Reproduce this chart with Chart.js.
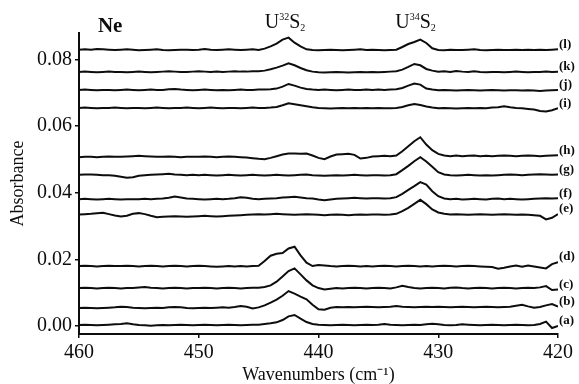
<!DOCTYPE html>
<html>
<head>
<meta charset="utf-8">
<script src="https://cdn.jsdelivr.net/npm/chart.js@4.4.1/dist/chart.umd.min.js"></script>
<style>
  html, body { margin: 0; padding: 0; background: #fff; }
  #wrap { width: 579px; height: 384px; }
</style>
</head>
<body>
<div id="wrap"><canvas id="spectra" width="579" height="384"></canvas></div>
<script>
// wavenumber grid (cm-1), 0.5 step, 460 -> 420
const wavenumbers = [
  460,459.5,459,458.5,458,457.5,457,456.5,456,455.5,
  455,454.5,454,453.5,453,452.5,452,451.5,451,450.5,
  450,449.5,449,448.5,448,447.5,447,446.5,446,445.5,
  445,444.5,444,443.5,443,442.5,442,441.5,441,440.5,
  440,439.5,439,438.5,438,437.5,437,436.5,436,435.5,
  435,434.5,434,433.5,433,432.5,432,431.5,431,430.5,
  430,429.5,429,428.5,428,427.5,427,426.5,426,425.5,
  425,424.5,424,423.5,423,422.5,422,421.5,421,420.5,
  420
];

// absorbance traces (a) ... (l)
const specA = [
  0.0003,0.0004,0.0003,0.0002,0.0003,0.0004,0.0005,0.0006,0.0008,0.0005,
  0.0003,0.0002,0.0001,0.0002,0.0003,0.0002,0.0003,0.0004,0.0003,0.0002,
  0.0003,0.0004,0.0003,0.0002,0.0003,0.0004,0.0003,0.0002,0.0003,0.0004,
  0.0004,0.0006,0.0008,0.0011,0.0018,0.0029,0.0033,0.0022,0.0012,0.0006,
  0.0004,0.0003,0.0002,0.0003,0.0004,0.0003,0.0002,0.0003,0.0004,0.0003,
  0.0004,0.0006,0.0004,0.0003,0.0002,0.0003,0.0004,0.0003,0.0005,0.0007,
  0.0005,0.0003,0.0002,0.0003,0.0005,0.0004,0.0003,0.0002,0.0003,0.0004,
  0.0003,0.0002,0.0003,0.0004,0.0003,0.0002,0.0003,0.0006,0.0013,-0.0006,
  0.0000
];
const specB = [
  0.0054,0.0055,0.0054,0.0053,0.0054,0.0055,0.0056,0.0058,0.0057,0.0055,
  0.0054,0.0053,0.0054,0.0055,0.0054,0.0056,0.0057,0.0056,0.0054,0.0053,
  0.0054,0.0055,0.0054,0.0055,0.0056,0.0055,0.0057,0.0060,0.0058,0.0053,
  0.0056,0.0062,0.0070,0.0079,0.0091,0.0105,0.0097,0.0088,0.0080,0.0064,
  0.0050,0.0049,0.0055,0.0057,0.0056,0.0057,0.0056,0.0057,0.0058,0.0057,
  0.0056,0.0057,0.0058,0.0060,0.0058,0.0057,0.0056,0.0057,0.0058,0.0057,
  0.0058,0.0057,0.0056,0.0057,0.0058,0.0057,0.0056,0.0057,0.0058,0.0057,
  0.0056,0.0057,0.0058,0.0061,0.0064,0.0059,0.0055,0.0057,0.0062,0.0066,
  0.0058
];
const specC = [
  0.0114,0.0115,0.0114,0.0113,0.0114,0.0115,0.0114,0.0113,0.0114,0.0114,
  0.0116,0.0117,0.0115,0.0114,0.0113,0.0114,0.0115,0.0114,0.0113,0.0114,
  0.0114,0.0115,0.0114,0.0113,0.0114,0.0115,0.0114,0.0113,0.0114,0.0115,
  0.0115,0.0117,0.0122,0.0133,0.0149,0.0165,0.0173,0.0155,0.0137,0.0122,
  0.0114,0.0110,0.0112,0.0114,0.0113,0.0114,0.0115,0.0114,0.0113,0.0114,
  0.0115,0.0114,0.0113,0.0116,0.0121,0.0117,0.0114,0.0113,0.0114,0.0115,
  0.0114,0.0113,0.0115,0.0116,0.0114,0.0113,0.0114,0.0115,0.0114,0.0113,
  0.0114,0.0115,0.0114,0.0113,0.0114,0.0115,0.0114,0.0116,0.0120,0.0108,
  0.0110
];
const specD = [
  0.0180,0.0181,0.0180,0.0179,0.0180,0.0181,0.0180,0.0180,0.0181,0.0180,
  0.0179,0.0180,0.0181,0.0180,0.0179,0.0180,0.0181,0.0180,0.0179,0.0180,
  0.0181,0.0180,0.0179,0.0178,0.0179,0.0180,0.0179,0.0180,0.0179,0.0180,
  0.0181,0.0195,0.0211,0.0217,0.0219,0.0233,0.0238,0.0212,0.0190,0.0180,
  0.0183,0.0182,0.0180,0.0179,0.0180,0.0181,0.0180,0.0179,0.0180,0.0179,
  0.0180,0.0181,0.0180,0.0179,0.0180,0.0181,0.0180,0.0179,0.0180,0.0179,
  0.0180,0.0181,0.0180,0.0179,0.0180,0.0181,0.0180,0.0179,0.0178,0.0177,
  0.0172,0.0175,0.0179,0.0182,0.0178,0.0182,0.0179,0.0176,0.0173,0.0186,
  0.0192
];
const specE = [
  0.0335,0.0336,0.0337,0.0339,0.0340,0.0336,0.0332,0.0329,0.0331,0.0337,
  0.0339,0.0336,0.0331,0.0327,0.0328,0.0329,0.0330,0.0329,0.0328,0.0329,
  0.0330,0.0331,0.0330,0.0329,0.0330,0.0331,0.0332,0.0333,0.0334,0.0335,
  0.0336,0.0335,0.0336,0.0337,0.0336,0.0335,0.0334,0.0335,0.0336,0.0335,
  0.0334,0.0333,0.0334,0.0335,0.0334,0.0333,0.0334,0.0335,0.0334,0.0335,
  0.0335,0.0334,0.0335,0.0337,0.0345,0.0355,0.0367,0.0379,0.0366,0.0350,
  0.0341,0.0337,0.0335,0.0336,0.0335,0.0334,0.0335,0.0336,0.0335,0.0334,
  0.0335,0.0336,0.0335,0.0334,0.0335,0.0334,0.0333,0.0331,0.0320,0.0325,
  0.0336
];
const specF = [
  0.0381,0.0382,0.0381,0.0380,0.0381,0.0382,0.0381,0.0380,0.0381,0.0381,
  0.0381,0.0382,0.0381,0.0382,0.0383,0.0385,0.0389,0.0386,0.0383,0.0382,
  0.0381,0.0380,0.0381,0.0382,0.0381,0.0382,0.0384,0.0387,0.0385,0.0382,
  0.0381,0.0382,0.0383,0.0384,0.0386,0.0387,0.0388,0.0386,0.0384,0.0383,
  0.0380,0.0378,0.0380,0.0382,0.0383,0.0384,0.0385,0.0384,0.0383,0.0384,
  0.0384,0.0383,0.0384,0.0387,0.0397,0.0409,0.0420,0.0432,0.0425,0.0405,
  0.0390,0.0383,0.0381,0.0382,0.0380,0.0381,0.0382,0.0381,0.0380,0.0382,
  0.0383,0.0381,0.0382,0.0381,0.0380,0.0381,0.0382,0.0383,0.0384,0.0383,
  0.0384
];
const specG = [
  0.0454,0.0455,0.0455,0.0454,0.0453,0.0453,0.0451,0.0448,0.0445,0.0447,
  0.0451,0.0453,0.0454,0.0455,0.0456,0.0457,0.0455,0.0454,0.0453,0.0454,
  0.0453,0.0454,0.0453,0.0452,0.0453,0.0454,0.0453,0.0452,0.0453,0.0454,
  0.0453,0.0452,0.0453,0.0454,0.0453,0.0452,0.0453,0.0454,0.0455,0.0453,
  0.0452,0.0451,0.0452,0.0453,0.0452,0.0453,0.0454,0.0453,0.0452,0.0453,
  0.0453,0.0452,0.0453,0.0456,0.0468,0.0481,0.0495,0.0507,0.0494,0.0478,
  0.0462,0.0455,0.0453,0.0452,0.0453,0.0454,0.0453,0.0452,0.0453,0.0452,
  0.0453,0.0454,0.0455,0.0454,0.0453,0.0454,0.0455,0.0456,0.0455,0.0454,
  0.0455
];
const specH = [
  0.0507,0.0508,0.0508,0.0507,0.0508,0.0509,0.0508,0.0508,0.0509,0.0510,
  0.0511,0.0510,0.0509,0.0508,0.0508,0.0509,0.0508,0.0507,0.0508,0.0508,
  0.0508,0.0509,0.0508,0.0507,0.0508,0.0509,0.0508,0.0507,0.0506,0.0504,
  0.0502,0.0501,0.0505,0.0510,0.0515,0.0518,0.0518,0.0517,0.0518,0.0512,
  0.0505,0.0501,0.0509,0.0515,0.0516,0.0517,0.0514,0.0503,0.0505,0.0509,
  0.0510,0.0511,0.0510,0.0512,0.0525,0.0540,0.0555,0.0567,0.0545,0.0528,
  0.0517,0.0512,0.0510,0.0512,0.0510,0.0511,0.0512,0.0510,0.0511,0.0510,
  0.0511,0.0512,0.0511,0.0510,0.0511,0.0512,0.0511,0.0510,0.0511,0.0512,
  0.0513
];
const specI = [
  0.0655,0.0656,0.0655,0.0654,0.0655,0.0655,0.0656,0.0655,0.0654,0.0655,
  0.0655,0.0654,0.0655,0.0656,0.0655,0.0654,0.0655,0.0655,0.0656,0.0655,
  0.0654,0.0655,0.0656,0.0655,0.0654,0.0655,0.0655,0.0654,0.0655,0.0656,
  0.0655,0.0655,0.0656,0.0658,0.0663,0.0669,0.0666,0.0663,0.0660,0.0657,
  0.0655,0.0654,0.0653,0.0654,0.0655,0.0654,0.0655,0.0654,0.0655,0.0654,
  0.0655,0.0654,0.0654,0.0655,0.0658,0.0663,0.0667,0.0664,0.0659,0.0656,
  0.0654,0.0655,0.0654,0.0653,0.0654,0.0655,0.0654,0.0655,0.0654,0.0656,
  0.0657,0.0660,0.0657,0.0655,0.0654,0.0652,0.0650,0.0646,0.0644,0.0648,
  0.0654
];
const specJ = [
  0.0709,0.0710,0.0709,0.0708,0.0709,0.0709,0.0708,0.0709,0.0710,0.0709,
  0.0708,0.0709,0.0710,0.0709,0.0709,0.0711,0.0712,0.0710,0.0709,0.0708,
  0.0709,0.0710,0.0709,0.0708,0.0709,0.0708,0.0709,0.0710,0.0709,0.0709,
  0.0710,0.0710,0.0711,0.0713,0.0719,0.0727,0.0722,0.0716,0.0712,0.0710,
  0.0709,0.0710,0.0709,0.0708,0.0709,0.0710,0.0709,0.0709,0.0710,0.0709,
  0.0710,0.0709,0.0710,0.0711,0.0715,0.0722,0.0728,0.0725,0.0713,0.0710,
  0.0708,0.0709,0.0708,0.0707,0.0708,0.0709,0.0708,0.0707,0.0708,0.0709,
  0.0708,0.0707,0.0708,0.0708,0.0707,0.0708,0.0707,0.0706,0.0707,0.0708,
  0.0709
];
const specK = [
  0.0763,0.0764,0.0763,0.0762,0.0763,0.0764,0.0763,0.0763,0.0762,0.0763,
  0.0764,0.0763,0.0762,0.0763,0.0764,0.0765,0.0764,0.0763,0.0763,0.0764,
  0.0765,0.0764,0.0763,0.0764,0.0763,0.0764,0.0765,0.0764,0.0764,0.0765,
  0.0765,0.0767,0.0771,0.0776,0.0782,0.0789,0.0783,0.0775,0.0768,0.0764,
  0.0762,0.0761,0.0762,0.0763,0.0762,0.0761,0.0762,0.0763,0.0762,0.0763,
  0.0762,0.0763,0.0764,0.0765,0.0770,0.0778,0.0787,0.0783,0.0772,0.0767,
  0.0764,0.0765,0.0763,0.0766,0.0764,0.0763,0.0765,0.0763,0.0762,0.0763,
  0.0763,0.0762,0.0763,0.0764,0.0763,0.0762,0.0763,0.0763,0.0764,0.0763,
  0.0764
];
const specL = [
  0.0830,0.0831,0.0830,0.0832,0.0831,0.0830,0.0829,0.0830,0.0831,0.0830,
  0.0828,0.0829,0.0830,0.0831,0.0829,0.0828,0.0829,0.0830,0.0830,0.0829,
  0.0830,0.0832,0.0830,0.0829,0.0830,0.0831,0.0830,0.0829,0.0830,0.0831,
  0.0829,0.0833,0.0840,0.0848,0.0860,0.0866,0.0851,0.0840,0.0831,0.0829,
  0.0828,0.0829,0.0830,0.0829,0.0828,0.0829,0.0830,0.0831,0.0829,0.0830,
  0.0829,0.0828,0.0829,0.0830,0.0838,0.0847,0.0853,0.0860,0.0850,0.0834,
  0.0829,0.0828,0.0830,0.0829,0.0829,0.0830,0.0831,0.0829,0.0828,0.0829,
  0.0830,0.0829,0.0829,0.0830,0.0829,0.0830,0.0829,0.0830,0.0829,0.0830,
  0.0831
];

const traces = [specA, specB, specC, specD, specE, specF, specG, specH, specI, specJ, specK, specL];
const traceLabels = ['(a)', '(b)', '(c)', '(d)', '(e)', '(f)', '(g)', '(h)', '(i)', '(j)', '(k)', '(l)'];

const xTicks = [460, 450, 440, 430, 420];
const yTicks = [0.00, 0.02, 0.04, 0.06, 0.08];

// band labels: wavenumber of each isotopologue band
const bandLabels = [
  { sup: '32', at: 442.8 },
  { sup: '34', at: 431.9 }
];
const matrixLabel = { text: 'Ne', at: 457.4 };

const SERIF = '"Liberation Serif", "Times New Roman", serif';
const INK = '#0d0d0d';

// draws trace tags, matrix name and the U(n)S2 band labels
const annotatePlugin = {
  id: 'annotate',
  afterDatasetsDraw(chart) {
    const { ctx, chartArea } = chart;
    const xs = chart.scales.x;
    const ys = chart.scales.y;
    ctx.save();
    ctx.fillStyle = INK;

    ctx.font = 'bold 13px ' + SERIF;
    ctx.textAlign = 'left';
    ctx.textBaseline = 'middle';
    chart.data.datasets.forEach((ds, i) => {
      const last = ds.data[ds.data.length - 1];
      ctx.fillText(traceLabels[i], chartArea.right + 1, ys.getPixelForValue(last.y) - 5);
    });

    ctx.textBaseline = 'alphabetic';
    ctx.textAlign = 'center';
    ctx.font = 'bold 21px ' + SERIF;
    ctx.fillText(matrixLabel.text, xs.getPixelForValue(matrixLabel.at), 32);

    ctx.textAlign = 'left';
    bandLabels.forEach(b => {
      const big = '20px ' + SERIF;
      const small = '10px ' + SERIF;
      ctx.font = big;
      const wU = ctx.measureText('U').width;
      const wS = ctx.measureText('S').width;
      ctx.font = small;
      const wSup = ctx.measureText(b.sup).width;
      const wSub = ctx.measureText('2').width;
      let px = xs.getPixelForValue(b.at) - (wU + wSup + wS + wSub) / 2;
      const base = 28;
      ctx.font = big;
      ctx.fillText('U', px, base); px += wU;
      ctx.font = small;
      ctx.fillText(b.sup, px, base - 8); px += wSup;
      ctx.font = big;
      ctx.fillText('S', px, base); px += wS;
      ctx.font = small;
      ctx.fillText('2', px, base + 3);
    });
    ctx.restore();
  }
};

const ctx = document.getElementById('spectra').getContext('2d');
new Chart(ctx, {
  type: 'line',
  data: {
    datasets: traces.map((t, i) => ({
      label: traceLabels[i],
      data: t.map((v, k) => ({ x: wavenumbers[k], y: v })),
      borderColor: INK,
      borderWidth: 2,
      pointRadius: 0,
      tension: 0,
      fill: false
    }))
  },
  options: {
    responsive: false,
    animation: false,
    events: [],
    layout: { padding: { top: 33, right: 21, bottom: 0, left: 0 } },
    plugins: {
      legend: { display: false },
      tooltip: { enabled: false }
    },
    scales: {
      x: {
        type: 'linear',
        reverse: true,
        min: 420,
        max: 460,
        afterBuildTicks: s => { s.ticks = xTicks.map(v => ({ value: v })); },
        afterFit: s => { s.height = 50; },
        ticks: {
          color: INK,
          font: { family: SERIF, size: 20 },
          padding: 3,
          maxRotation: 0,
          callback: v => String(v)
        },
        grid: { display: true, drawOnChartArea: false, drawTicks: true, tickLength: 4, color: INK, lineWidth: 1.5 },
        border: { display: true, color: INK, width: 2 },
        title: {
          display: true,
          text: 'Wavenumbers (cm\u207B\u00B9)',
          color: INK,
          font: { family: SERIF, size: 18, lineHeight: 1 },
          padding: { top: 0, bottom: 0 }
        }
      },
      y: {
        type: 'linear',
        min: -0.0024,
        max: 0.088,
        afterBuildTicks: s => { s.ticks = yTicks.map(v => ({ value: v })); },
        afterFit: s => { s.width = 79; },
        ticks: {
          color: INK,
          font: { family: SERIF, size: 20 },
          padding: 3,
          callback: v => v.toFixed(2)
        },
        grid: { display: true, drawOnChartArea: false, drawTicks: true, tickLength: 4, color: INK, lineWidth: 1.5 },
        border: { display: true, color: INK, width: 2 },
        title: {
          display: true,
          text: 'Absorbance',
          color: INK,
          font: { family: SERIF, size: 18 },
          padding: { top: 7, bottom: 0 }
        }
      }
    }
  },
  plugins: [annotatePlugin]
});
</script>
</body>
</html>
